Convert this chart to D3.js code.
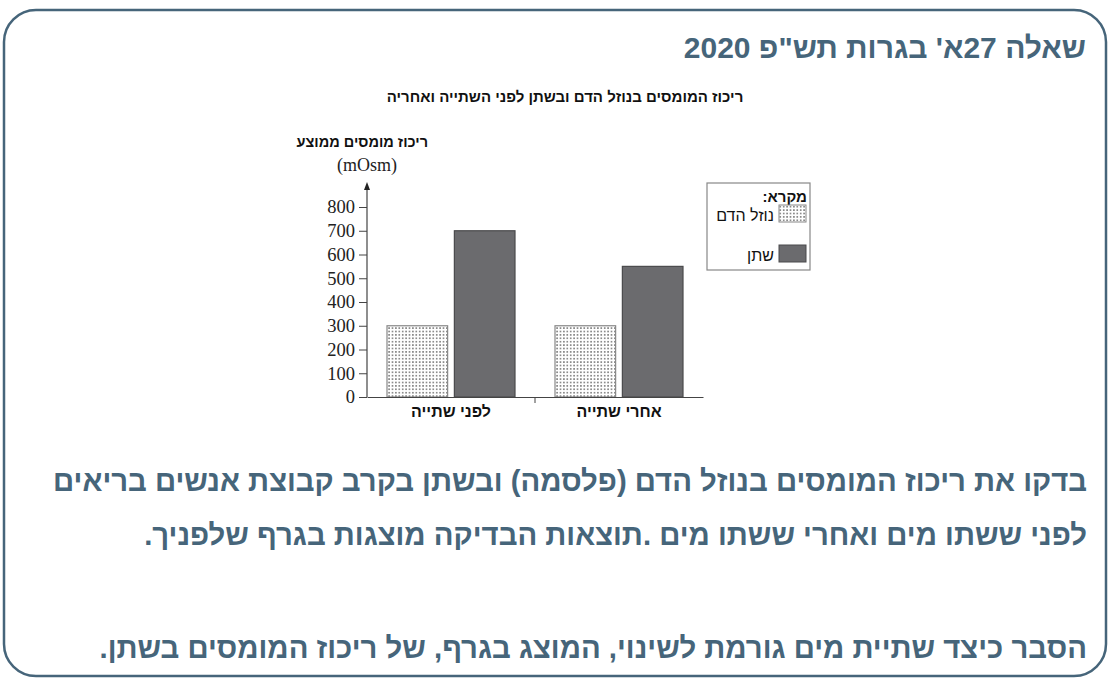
<!DOCTYPE html>
<html>
<head>
<meta charset="utf-8">
<script src="https://cdn.jsdelivr.net/npm/d3@7"></script>
<style>
  body { margin: 0; background: #fff; }
  svg { display: block; }
</style>
</head>
<body>
<svg id="chart" width="1110" height="680"></svg>
<script>
const groups = ["לפני שתייה", "אחרי שתייה"];
const series = ["נוזל הדם", "שתן"];
const plasmaValues = [300, 300];
const urineValues = [700, 550];
const yTicks = [0, 100, 200, 300, 400, 500, 600, 700, 800];

const headingText = "שאלה 27א' בגרות תש\"פ 2020";
const chartTitle = "ריכוז המומסים בנוזל הדם ובשתן לפני השתייה ואחריה";
const yLabel = "ריכוז מומסים ממוצע";
const yUnit = "(mOsm)";
const legendTitle = "מקרא:";
const bodyLines = [
    "בדקו את ריכוז המומסים בנוזל הדם (פלסמה) ובשתן בקרב קבוצת אנשים בריאים",
    "לפני ששתו מים ואחרי ששתו מים .תוצאות הבדיקה מוצגות בגרף שלפניך.",
    "הסבר כיצד שתיית מים גורמת לשינוי, המוצג בגרף, של ריכוז המומסים בשתן."
];

const ink = "#46657a";
const svg = d3.select('#chart');

// Frame
svg.append('rect')
    .attr('x', 4).attr('y', 10)
    .attr('width', 1102).attr('height', 666)
    .attr('rx', 32).attr('ry', 32)
    .attr('fill', 'none')
    .attr('stroke', ink)
    .attr('stroke-width', 2.5);

function rtlText(x, y, str, size, color) {
    return svg.append('text')
        .attr('x', x).attr('y', y)
        .attr('direction', 'rtl')
        .attr('text-anchor', 'start')
        .style('font-family', '"Liberation Sans", Arial, sans-serif')
        .style('font-weight', 'bold')
        .style('font-size', size + 'px')
        .attr('fill', color)
        .text(str);
}

rtlText(1086, 58, headingText, 30, ink);
rtlText(1087, 491, bodyLines[0], 29.3, ink);
rtlText(1087, 545, bodyLines[1], 29.3, ink);
rtlText(1087, 658, bodyLines[2], 29.3, ink);

// Chart
const y = d3.scaleLinear().domain([0, 800]).range([397, 207]);
const x0 = d3.scaleBand().domain(groups).range([367, 703]).padding(0);
const x1 = d3.scaleBand().domain(series).range([20, 148]).paddingInner(0.1);

const defs = svg.append('defs');
const pat = defs.append('pattern')
    .attr('id', 'dots')
    .attr('patternUnits', 'userSpaceOnUse')
    .attr('width', 3.4).attr('height', 3.4);
pat.append('rect').attr('width', 3.4).attr('height', 3.4).attr('fill', '#fff');
pat.append('rect').attr('x', 1).attr('y', 1).attr('width', 1.4).attr('height', 1.4).attr('fill', '#555');

const fills = ['url(#dots)', '#6b6b6e'];
const strokes = ['#888', '#4a4a4c'];

const chart = svg.append('g');

chart.append('text')
    .attr('x', 565).attr('y', 102)
    .attr('direction', 'rtl')
    .attr('text-anchor', 'middle')
    .style('font-family', '"Liberation Sans", Arial, sans-serif')
    .style('font-weight', 'bold')
    .style('font-size', '15px')
    .attr('fill', '#111')
    .text(chartTitle);

chart.append('text')
    .attr('x', 428).attr('y', 147)
    .attr('direction', 'rtl')
    .attr('text-anchor', 'start')
    .style('font-family', '"Liberation Sans", Arial, sans-serif')
    .style('font-weight', 'bold')
    .style('font-size', '14.5px')
    .attr('fill', '#111')
    .text(yLabel);

chart.append('text')
    .attr('x', 367).attr('y', 171)
    .attr('text-anchor', 'middle')
    .style('font-family', '"Liberation Serif", "Times New Roman", serif')
    .style('font-size', '18px')
    .attr('fill', '#222')
    .text(yUnit);

const data = groups.map((g, i) => ({ group: g, values: [plasmaValues[i], urineValues[i]] }));

chart.selectAll('g.grp')
    .data(data)
    .enter().append('g')
    .attr('class', 'grp')
    .attr('transform', d => `translate(${x0(d.group)},0)`)
    .selectAll('rect')
    .data(d => d.values.map((v, j) => ({ key: series[j], value: v, j: j })))
    .enter().append('rect')
    .attr('x', d => x1(d.key))
    .attr('y', d => y(d.value))
    .attr('width', x1.bandwidth())
    .attr('height', d => y(0) - y(d.value))
    .attr('fill', d => fills[d.j])
    .attr('stroke', d => strokes[d.j])
    .attr('stroke-width', 1.2);

// Y axis
const yAxis = chart.append('g')
    .attr('transform', 'translate(367,0)')
    .call(d3.axisLeft(y).tickValues(yTicks).tickSize(8).tickPadding(4));
yAxis.select('.domain').remove();
yAxis.selectAll('line').attr('stroke', '#444');
yAxis.selectAll('text')
    .style('font-family', '"Liberation Serif", "Times New Roman", serif')
    .style('font-size', '18.5px')
    .attr('fill', '#222');

chart.append('line')
    .attr('x1', 367).attr('x2', 367)
    .attr('y1', y(0)).attr('y2', 186)
    .attr('stroke', '#444').attr('stroke-width', 1.2);
chart.append('path')
    .attr('d', 'M367,182 L364,190 L370,190 Z')
    .attr('fill', '#222');

// X axis
const xAxis = chart.append('g')
    .attr('transform', `translate(0,${y(0)})`)
    .call(d3.axisBottom(x0).tickSize(0).tickPadding(9));
xAxis.select('.domain').attr('stroke', '#444').attr('stroke-width', 1.2);
xAxis.selectAll('text')
    .attr('direction', 'rtl')
    .style('font-family', '"Liberation Sans", Arial, sans-serif')
    .style('font-weight', 'bold')
    .style('font-size', '16px')
    .attr('fill', '#111');
chart.append('line')
    .attr('x1', x0(groups[1])).attr('x2', x0(groups[1]))
    .attr('y1', y(0)).attr('y2', y(0) + 6)
    .attr('stroke', '#444');

// Legend
const legend = chart.append('g');
legend.append('rect')
    .attr('x', 707).attr('y', 183)
    .attr('width', 103).attr('height', 87)
    .attr('fill', '#fff')
    .attr('stroke', '#888').attr('stroke-width', 1.2);
legend.append('text')
    .attr('x', 807).attr('y', 202)
    .attr('direction', 'rtl')
    .attr('text-anchor', 'start')
    .style('font-family', '"Liberation Sans", Arial, sans-serif')
    .style('font-weight', 'bold')
    .style('font-size', '15px')
    .attr('fill', '#111')
    .text(legendTitle);

const legendItems = legend.selectAll('g.item')
    .data(series)
    .enter().append('g')
    .attr('class', 'item')
    .attr('transform', (d, i) => `translate(0,${205 + i * 40})`);
legendItems.append('rect')
    .attr('x', 779).attr('y', 0)
    .attr('width', 27).attr('height', 17)
    .attr('fill', (d, i) => fills[i])
    .attr('stroke', (d, i) => strokes[i]);
legendItems.append('text')
    .attr('x', 774).attr('y', 16)
    .attr('direction', 'rtl')
    .attr('text-anchor', 'start')
    .style('font-family', '"Liberation Sans", Arial, sans-serif')
    .style('font-size', '16px')
    .attr('fill', '#111')
    .text(d => d);
</script>
</body>
</html>
